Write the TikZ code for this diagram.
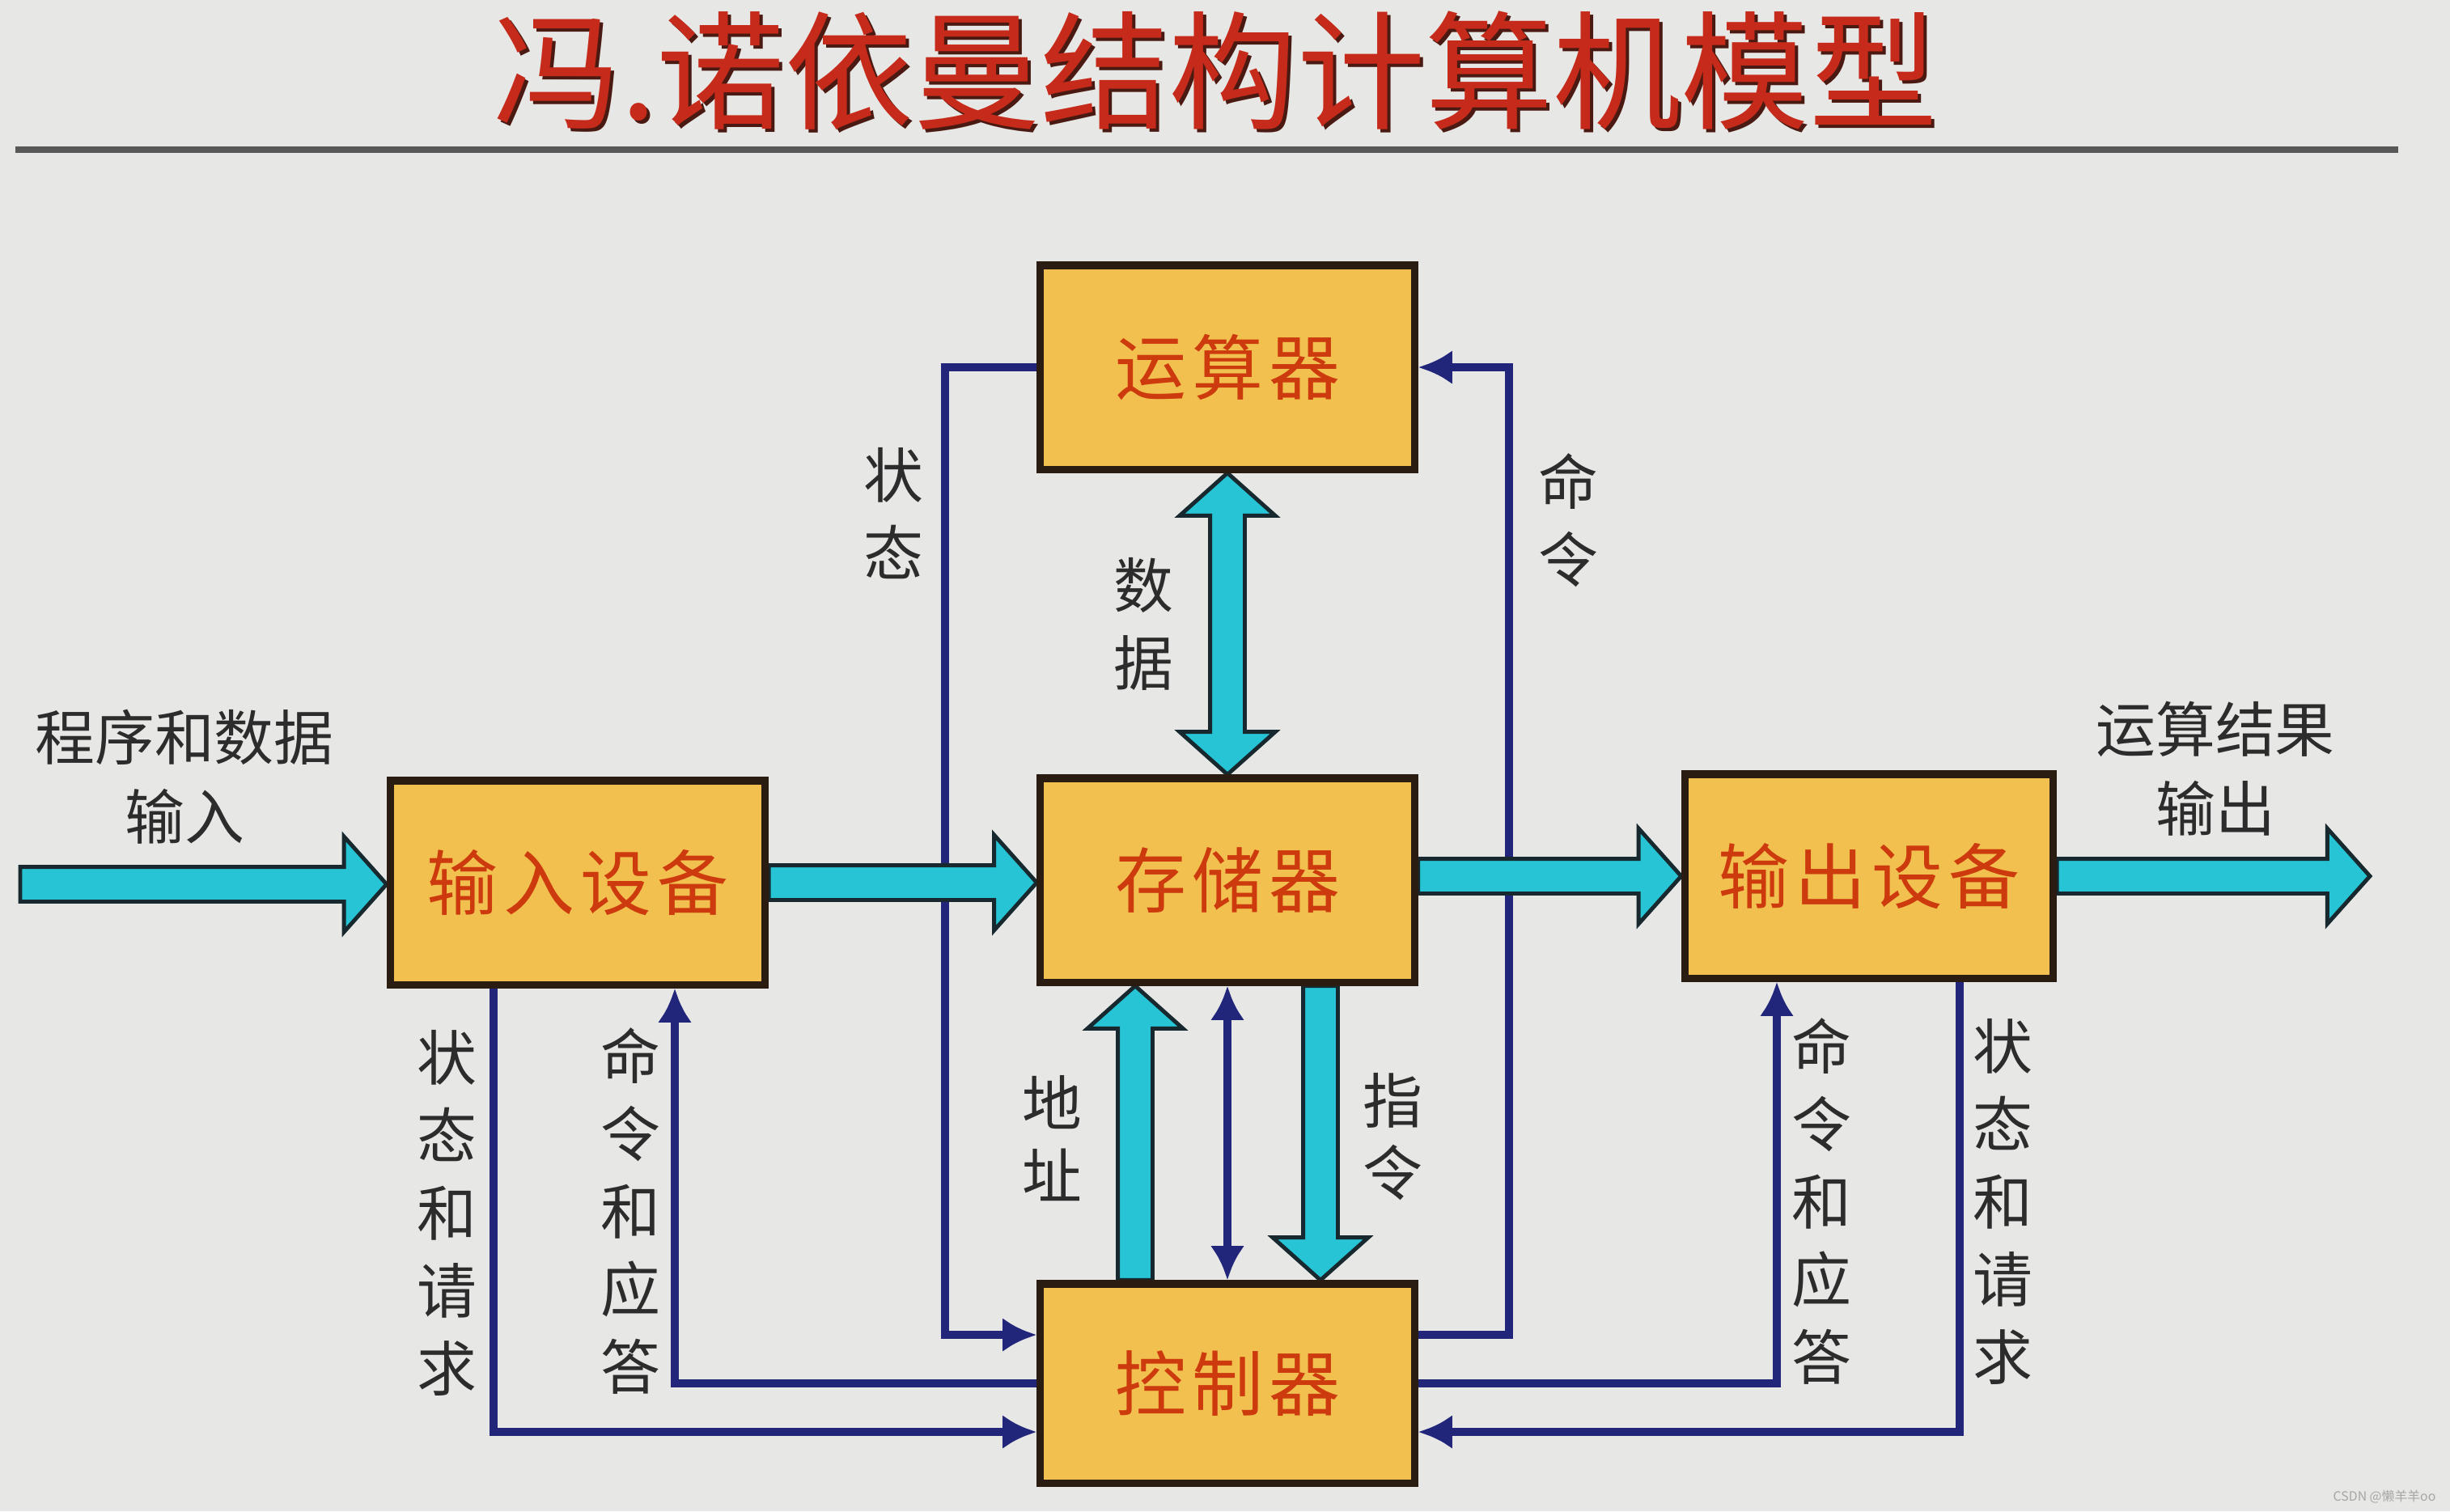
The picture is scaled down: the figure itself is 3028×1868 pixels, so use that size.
\documentclass[tikz,border=0pt]{standalone}
\usepackage{fontspec}
\usetikzlibrary{calc,arrows.meta}
\newfontfamily\cjk{Noto Sans CJK SC}

\definecolor{paper}{HTML}{E7E7E5}
\definecolor{boxfill}{HTML}{F1C04F}
\definecolor{boxline}{HTML}{2B1C12}
\definecolor{boxtext}{HTML}{CC3A0E}
\definecolor{busfill}{HTML}{26C4D4}
\definecolor{busline}{HTML}{17292F}
\definecolor{navy}{HTML}{22267A}
\definecolor{labeltext}{HTML}{2C2C2C}
\definecolor{titlered}{HTML}{C62A1A}
\definecolor{titleshade}{HTML}{4A1A12}
\definecolor{rulegray}{HTML}{585858}

\pgfdeclarelayer{bg}
\pgfsetlayers{bg,main}

% half shaft width, half head width, head length of the wide bus arrows
\def\sw{6.1pt}
\def\hw{16.8pt}
\def\hl{15pt}

% wide bus arrow pointing right, drawn at the height of #1
\newcommand\busright[2]{%
  \filldraw[bus] let \p1=(#1), \p2=(#2) in
    (\x1,\y1+\sw) -- (\x2-\hl,\y1+\sw) -- (\x2-\hl,\y1+\hw) -- (\x2,\y1)
    -- (\x2-\hl,\y1-\hw) -- (\x2-\hl,\y1-\sw) -- (\x1,\y1-\sw) -- cycle;}
% wide bus arrow pointing up from #1 to #2
\newcommand\busup[2]{%
  \filldraw[bus] let \p1=(#1), \p2=(#2) in
    (\x1-\sw,\y1) -- (\x1-\sw,\y2-\hl) -- (\x1-\hw,\y2-\hl) -- (\x1,\y2)
    -- (\x1+\hw,\y2-\hl) -- (\x1+\sw,\y2-\hl) -- (\x1+\sw,\y1) -- cycle;}
% wide bus arrow pointing down from #1 to #2
\newcommand\busdown[2]{%
  \filldraw[bus] let \p1=(#1), \p2=(#2) in
    (\x1-\sw,\y1) -- (\x1-\sw,\y2+\hl) -- (\x1-\hw,\y2+\hl) -- (\x1,\y2)
    -- (\x1+\hw,\y2+\hl) -- (\x1+\sw,\y2+\hl) -- (\x1+\sw,\y1) -- cycle;}
% wide two-way bus arrow between #1 (top) and #2 (bottom)
\newcommand\busboth[2]{%
  \filldraw[bus] let \p1=(#1), \p2=(#2) in
    (\x1,\y1) -- (\x1+\hw,\y1-\hl) -- (\x1+\sw,\y1-\hl) -- (\x1+\sw,\y2+\hl)
    -- (\x1+\hw,\y2+\hl) -- (\x1,\y2) -- (\x1-\hw,\y2+\hl) -- (\x1-\sw,\y2+\hl)
    -- (\x1-\sw,\y1-\hl) -- (\x1-\hw,\y1-\hl) -- cycle;}

\begin{document}
\begin{tikzpicture}[x=0.01cm,y=-0.01cm,
  >={Latex[length=12pt,width=12pt]},
  unit/.style={draw=boxline, line width=2.6pt, fill=boxfill, text=boxtext,
    font=\cjk\fontsize{25pt}{30pt}\selectfont, inner sep=0pt,
    minimum width=4.62cm, minimum height=2.52cm},
  lbl/.style={text=labeltext, font=\cjk\fontsize{21pt}{27.3pt}\selectfont,
    align=center, inner sep=0pt},
  hlbl/.style={lbl, font=\cjk\fontsize{21pt}{28pt}\selectfont},
  bus/.style={fill=busfill, draw=busline, line width=1.4pt, line join=miter},
  ctl/.style={draw=navy, line width=2.9pt, line join=miter},
  heading/.style={font=\cjk\fontsize{45pt}{50pt}\selectfont, inner sep=0pt}]

\useasboundingbox (0,0) rectangle (3028,1868);

% heading and rule
\node[heading, text=titleshade] (titleshadow) at (1506,91) {冯.诺依曼结构计算机模型};
\node[heading, text=titlered] (title) at (1502,87) {冯.诺依曼结构计算机模型};
\coordinate (ruleL) at (19,185);
\coordinate (ruleR) at (2964,185);
\draw[rulegray, line width=2.2pt] (ruleL) -- (ruleR);

% functional units
\node[unit] (alu) at (1517,454) {运\kern2pt 算\kern2pt 器};
\node[unit] (mem) at (1517,1088) {存\kern2pt 储\kern2pt 器};
\node[unit, minimum height=2.46cm] (ctrl) at (1517,1710) {控\kern2pt 制\kern2pt 器};
\node[unit, minimum width=4.63cm] (inp) at (714,1091) {输\kern2pt 入\kern2pt 设\kern2pt 备};
\node[unit, minimum width=4.55cm] (outp) at (2310,1083) {输\kern2pt 出\kern2pt 设\kern2pt 备};

\coordinate (src) at (25,1093);
\coordinate (sink) at (2929,1083);

\begin{pgfonlayer}{bg}
  \fill[paper] (0,0) rectangle (3028,1868);

  % control and status lines
  \draw[ctl,<->] (mem.south) -- (ctrl.north);
  \draw[ctl,->] (alu.west) -- ++(-113,0) |- ($(ctrl.west)+(0,-60)$);
  \draw[ctl,->] ($(ctrl.east)+(0,-60)$) -- ++(112,0) |- (alu.east);
  \draw[ctl,->] ($(inp.south)+(-104,0)$) |- ($(ctrl.west)+(0,60)$);
  \draw[ctl,->] (ctrl.west) -| ($(inp.south)+(120,0)$);
  \draw[ctl,->] (ctrl.east) -| ($(outp.south)+(-114,0)$);
  \draw[ctl,->] ($(outp.south)+(112,0)$) |- ($(ctrl.east)+(0,60)$);

  % wide data paths, laid over the control lines they cross
  \busright{src}{inp.west}
  \busright{inp.east}{mem.west}
  \busright{mem.east |- outp.west}{outp.west}
  \busright{outp.east}{sink}
  \busboth{alu.south}{mem.north}
  \busup{$(ctrl.north)+(-114,0)$}{$(mem.south)+(-114,0)$}
  \busdown{$(mem.south)+(115,0)$}{$(ctrl.north)+(115,0)$}
\end{pgfonlayer}

% line labels
\node[lbl] (lstate) at (1104,635) {状\\态};
\node[lbl] (lcmd) at (1938,643) {命\\令};
\node[lbl] (ldata) at (1413,771) {数\\据};
\node[lbl, font=\cjk\fontsize{21pt}{25.5pt}\selectfont] (laddr) at (1300,1407) {地\\址};
\node[lbl, font=\cjk\fontsize{21pt}{25.5pt}\selectfont] (linstr) at (1721,1405) {指\\令};
\node[lbl] (linreq) at (552,1499) {状\\态\\和\\请\\求};
\node[lbl] (lincmd) at (779,1497) {命\\令\\和\\应\\答};
\node[lbl] (loutcmd) at (2251,1485) {命\\令\\和\\应\\答};
\node[lbl] (loutreq) at (2475,1485) {状\\态\\和\\请\\求};
\node[hlbl] (lsrc) at (228,960) {程序和数据\\输入};
\node[hlbl] (lsink) at (2738,950) {运算结果\\输出};

\node[font=\cjk\fontsize{4.5pt}{5pt}\selectfont, text=black!35, inner sep=0pt] (mark) at (2947,1850) {CSDN @懒羊羊oo};
\end{tikzpicture}
\end{document}
